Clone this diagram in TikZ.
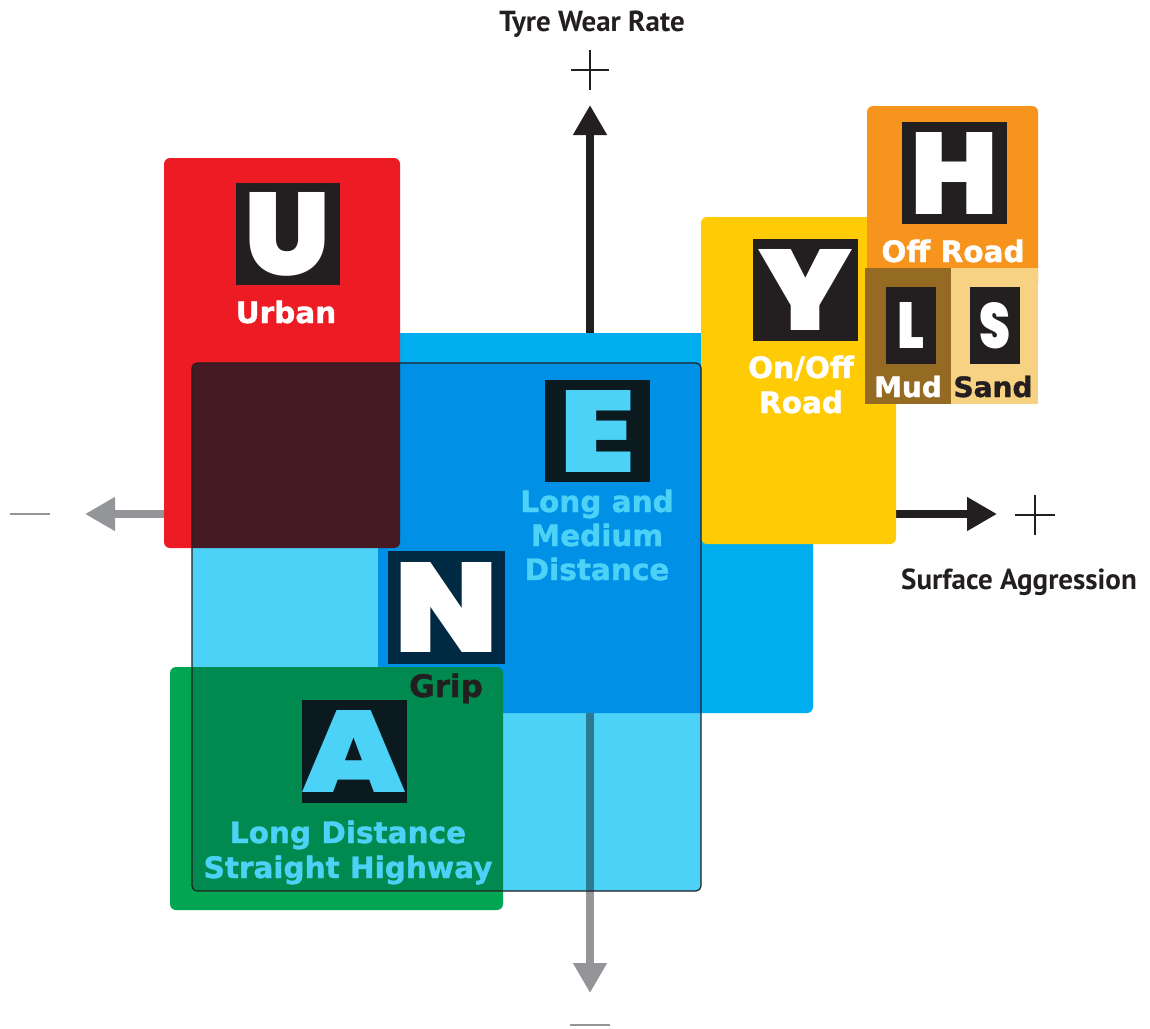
\documentclass[tikz,border=0pt]{standalone}
\usepackage{fontspec}
\usepackage{graphicx}
\usetikzlibrary{arrows.meta}
\newfontfamily\heavyfont{Poppins Black}
\newfontfamily\labelfont{DejaVu Sans Bold}[FakeBold=1.2]
\newfontfamily\axisfont{PT Sans}
\definecolor{cRed}{HTML}{ED1C24}
\definecolor{cCyan}{HTML}{00AEEF}
\definecolor{cLight}{HTML}{4DD2F7}
\definecolor{cYellow}{HTML}{FFCB05}
\definecolor{cOrange}{HTML}{F7941E}
\definecolor{cBrown}{HTML}{956A23}
\definecolor{cSand}{HTML}{F8D283}
\definecolor{cGreen}{HTML}{00A651}
\definecolor{cInk}{HTML}{231F20}
\definecolor{cGrey}{HTML}{939598}
\definecolor{cRedX}{HTML}{461A23}
\definecolor{cCyanX}{HTML}{0090E5}
\definecolor{cGreenX}{HTML}{008A50}
\definecolor{cGreyX}{HTML}{2C7B93}
\definecolor{cBoxX}{HTML}{0B1A1F}
\definecolor{cNavy}{HTML}{002A44}
\begin{document}
\begin{tikzpicture}[x=1pt,y=-1pt,
  lbl/.style={font=\labelfont\fontsize{29.5}{31}\selectfont, inner sep=0pt, anchor=base},
  axlbl/.style={font=\axisfont\bfseries\fontsize{29}{31}\selectfont, text=cInk, inner sep=0pt, anchor=base},
  lbox/.style={inner sep=0pt, anchor=center},
  signline/.style={line width=1.5pt},
  axline/.style={line width=8pt, -{Triangle[width=32pt,length=30pt]}},
  panel/.style={rounded corners=6pt}
]
\fill[white] (0,0) rectangle (1150,1028);
\useasboundingbox (0,0) rectangle (1150,1028);

% axes
\coordinate (O) at (590,514);
\coordinate (T) at (590,105);
\coordinate (B) at (590,993);
\coordinate (L) at (85,514);
\coordinate (R) at (997,514);
\draw[axline, cInk] (O) -- (T);
\draw[axline, cGrey] (O) -- (B);
\draw[axline, cGrey] (O) -- (L);
\draw[axline, cInk] (O) -- (R);

% signs
\draw[signline, cInk] (571,70) -- (609,70);
\draw[signline, cInk] (590,50) -- (590,90);
\draw[signline, cInk] (1015,515) -- (1055,515);
\draw[signline, cInk] (1035,495) -- (1035,535);
\draw[signline, cGrey] (10,514) -- (50,514);
\draw[signline, cGrey] (570,1025) -- (610,1025);

\node[axlbl] (tw) at (592,31) {Tyre Wear Rate};
\node[axlbl] (sa) at (1019,589) {Surface Aggression};

% panels
\fill[cCyan, panel] (378,333) rectangle (813,713);
\fill[cYellow, panel] (701,217) rectangle (896,544);
\fill[cOrange, panel] (867,106) rectangle (1038,290);
\fill[cBrown] (865,268) rectangle (951,404);
\fill[cSand] (951,268) rectangle (1038,404);
\fill[cRed, panel] (164,158) rectangle (400,548);
\fill[cGreen, panel] (170,667) rectangle (503,910);

% square (multiply look)
\fill[cLight, rounded corners=5pt] (192,363) rectangle (701,891);
\begin{scope}
  \clip[rounded corners=5pt] (192,363) rectangle (701,891);
  \fill[cCyanX, panel] (378,333) rectangle (813,713);
  \fill[cRedX, panel] (164,158) rectangle (400,548);
  \fill[cGreenX, panel] (170,667) rectangle (503,910);
  \draw[line width=8pt, cGreyX] (590,713) -- (590,900);
\end{scope}
\draw[cInk, line width=1.2pt, rounded corners=5pt] (192,363) rectangle (701,891);

% letter boxes
\node[lbox, fill=cInk, minimum width=104pt, minimum height=102pt, text=white] (U) at (288,234) {\resizebox{86pt}{83pt}{\heavyfont U}};
\node[lbox, fill=cBoxX, minimum width=105pt, minimum height=102pt, text=cLight] (E) at (597.5,431) {\resizebox{76pt}{82pt}{\heavyfont E}};
\node[lbox, fill=cNavy, minimum width=117pt, minimum height=113pt, text=white] (N) at (446.5,607.5) {\resizebox{104pt}{90pt}{\heavyfont N}};
\node[lbox, fill=cBoxX, minimum width=105pt, minimum height=103pt, text=cLight] (A) at (354.5,751.5) {\resizebox{103pt}{82pt}{\heavyfont A}};
\node[lbox, fill=cInk, minimum width=105pt, minimum height=102pt, text=white] (Y) at (805.5,290) {\resizebox{94pt}{81pt}{\heavyfont Y}};
\node[lbox, fill=cInk, minimum width=105pt, minimum height=102pt, text=white] (H) at (954.5,173) {\resizebox{88pt}{82pt}{\heavyfont H}};
\node[lbox, fill=cInk, minimum width=50pt, minimum height=77pt, text=white] (Lt) at (911,325.5) {\resizebox{27pt}{46pt}{\heavyfont L}};
\node[lbox, fill=cInk, minimum width=50pt, minimum height=77pt, text=white] (St) at (995,325.5) {\resizebox{31pt}{46pt}{\heavyfont S}};

% labels
\node[lbl, text=white] (urban) at (286,323) {Urban};
\node[lbl, text=cLight] (e1) at (597,512) {Long and};
\node[lbl, text=cLight] (e2) at (597,546) {Medium};
\node[lbl, text=cLight] (e3) at (597,580) {Distance};
\node[lbl, text=cInk, font=\labelfont\fontsize{31}{33}\selectfont] (grip) at (446,697) {Grip};
\node[lbl, text=cLight] (a1) at (348,843) {Long Distance};
\node[lbl, text=cLight] (a2) at (348,878) {Straight Highway};
\node[lbl, text=white] (y1) at (801,378) {On/Off};
\node[lbl, text=white] (y2) at (801,413) {Road};
\node[lbl, text=white] (h1) at (953,262) {Off Road};
\node[lbl, text=white, font=\labelfont\fontsize{28}{30}\selectfont] (mud) at (908,397) {Mud};
\node[lbl, text=cInk, font=\labelfont\fontsize{28}{30}\selectfont] (sand) at (993,397) {Sand};
\end{tikzpicture}
\end{document}
